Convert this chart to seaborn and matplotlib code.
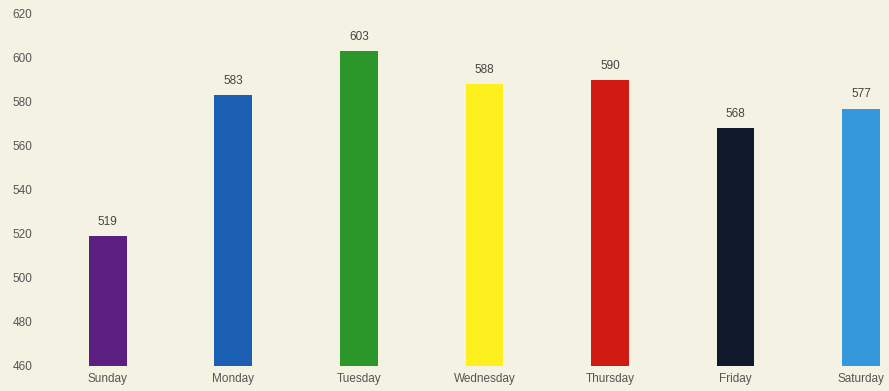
import matplotlib
matplotlib.use("Agg")
import matplotlib.pyplot as plt
import seaborn as sns
import pandas as pd

days = ["Sunday", "Monday", "Tuesday", "Wednesday", "Thursday", "Friday", "Saturday"]
values = [519, 583, 603, 588, 590, 568, 577]
colors = ["#5a1f80", "#1b5fb3", "#2b962a", "#fdf01e", "#cf1b12", "#101a2c", "#3598dc"]
yticks = [460, 480, 500, 520, 540, 560, 580, 600, 620]

sns.set_theme(style="white")
plt.rcParams["font.family"] = ["Liberation Sans", "DejaVu Sans"]

df = pd.DataFrame({"day": days, "value": values})

fig = plt.figure(figsize=(8.89, 3.91), dpi=100)
bg = "#f4f2e3"
fig.patch.set_facecolor(bg)
ax = fig.add_axes([45 / 889, 25 / 391, 1 - 45 / 889, 352 / 391])
ax.set_facecolor(bg)

sns.barplot(data=df, x="day", y="value", hue="day", palette=colors,
            order=days, hue_order=days, width=0.30, legend=False,
            saturation=1, linewidth=0, edgecolor="none", ax=ax)

for c in ax.containers:
    ax.bar_label(c, fmt="%d", padding=6, fontsize=8.5, color="#444444")

ax.set_ylim(460, 620)
ax.set_xlim(-0.5, 6.223)
ax.set_yticks(yticks)
ax.set_yticklabels([str(t) for t in yticks], fontsize=8.5, color="#555555")
ax.tick_params(axis="y", pad=9, length=0)
ax.tick_params(axis="x", pad=5, length=0, labelsize=8.5, labelcolor="#555555")
ax.set_xlabel("")
ax.set_ylabel("")
for s in ax.spines.values():
    s.set_visible(False)

fig.savefig("out.png", dpi=100, facecolor=bg)
